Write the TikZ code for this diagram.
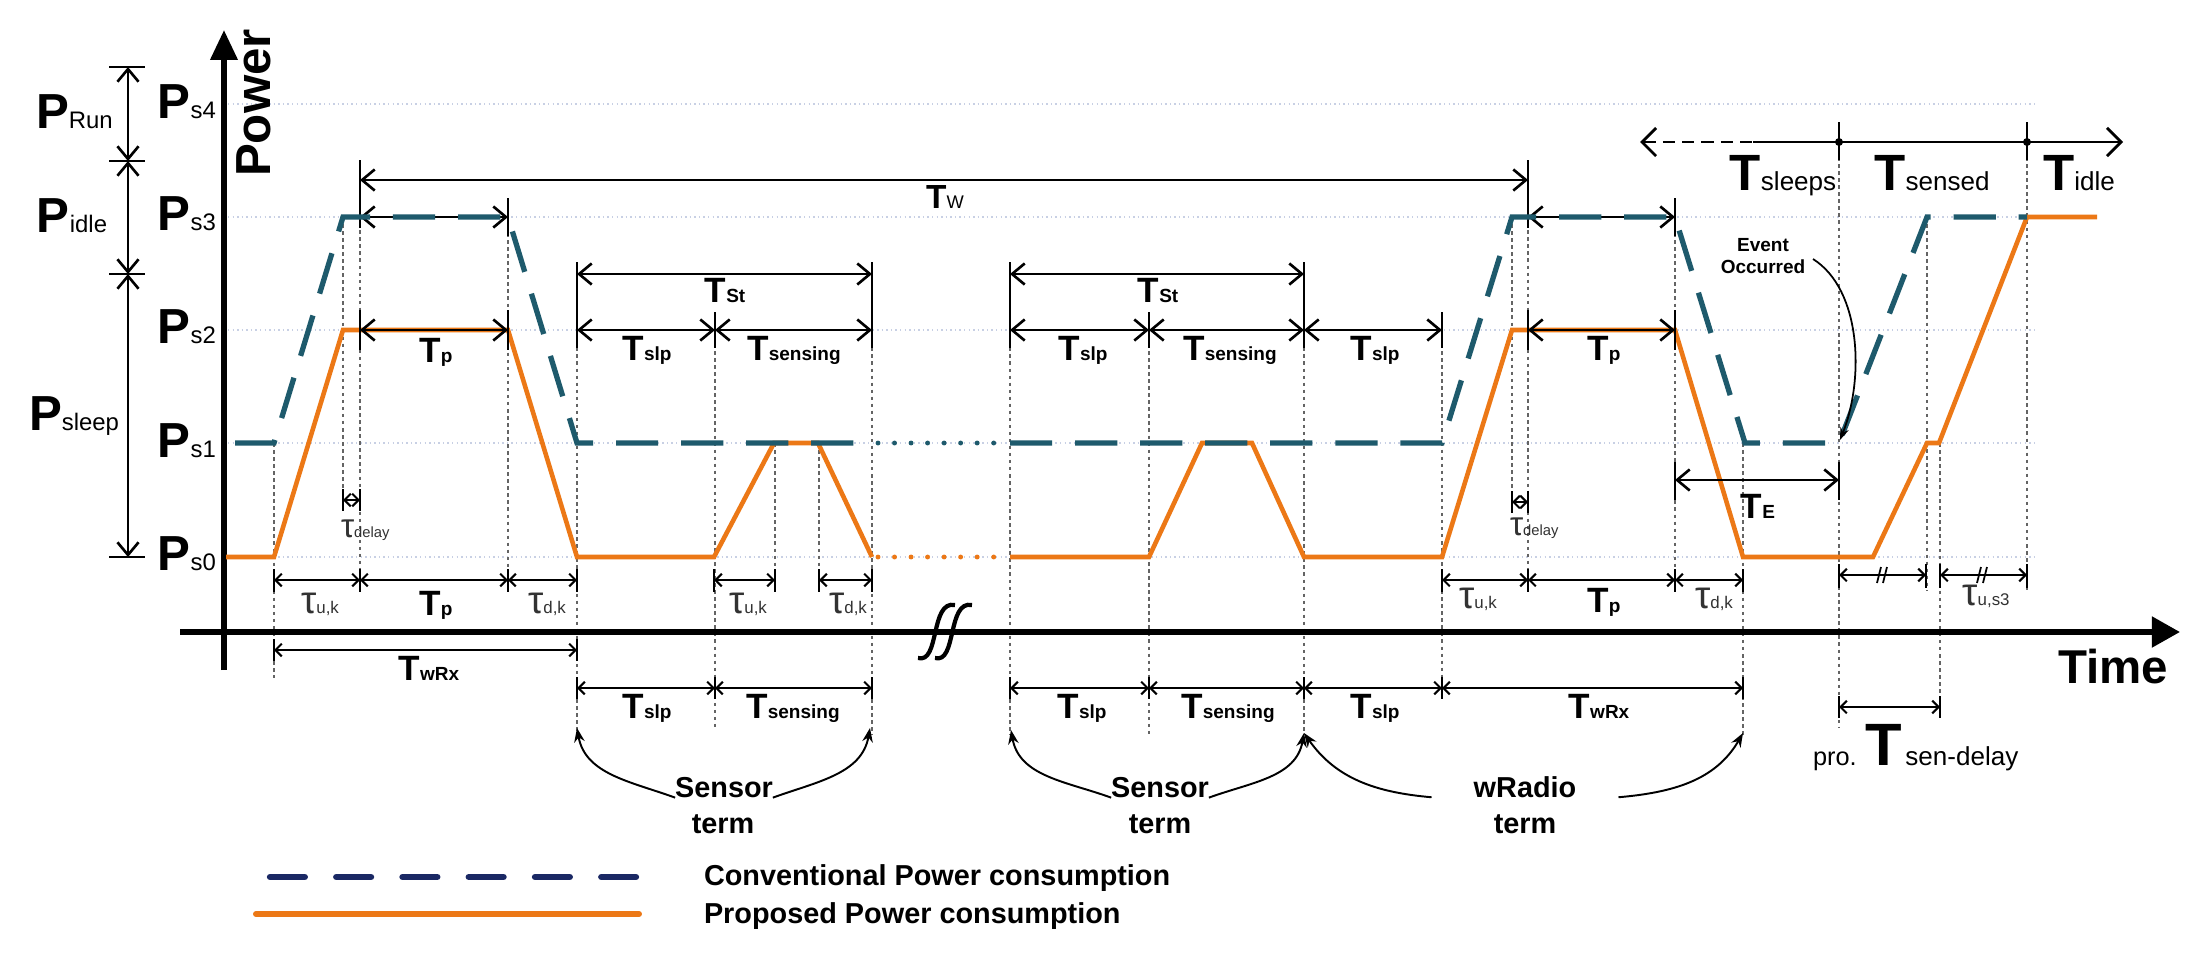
\documentclass[tikz,border=0pt]{standalone}
\usepackage{fontspec}
\setmainfont{Liberation Sans}
\usetikzlibrary{arrows.meta}
\definecolor{orng}{RGB}{236,120,22}
\definecolor{convc}{RGB}{30,90,108}
\definecolor{navyc}{RGB}{26,40,100}
\definecolor{gridc}{RGB}{200,208,228}
\definecolor{guidec}{RGB}{100,100,100}
\definecolor{taucol}{RGB}{50,50,50}
\newcommand\Tm[1]{{\fontsize{10}{12}\selectfont\bfseries T}{\fontsize{5.4}{6}\selectfont\bfseries #1}}
\newcommand\Tbig[1]{{\fontsize{14.5}{16}\selectfont\bfseries T}{\fontsize{7.4}{8}\selectfont #1}}
\newcommand\Pl[1]{{\fontsize{14}{16}\selectfont\bfseries P}{\fontsize{6.8}{8}\selectfont #1}}
\newcommand\Tu[1]{{\color{taucol}{\fontsize{11}{12}\selectfont τ}{\fontsize{4.8}{6}\selectfont #1}}}
\newcommand\Td[1]{{\color{taucol}{\fontsize{9.5}{11}\selectfont τ}{\fontsize{4.2}{5}\selectfont #1}}}
\newcommand\vt[3]{\draw[tk] (#1,#2) -- (#1,#3);}
\begin{document}
\begin{tikzpicture}[x=0.01cm,y=-0.01cm,
  every node/.style={inner sep=0pt, outer sep=0pt},
  prop/.style={orng, line width=1.3pt},
  propdot/.style={orng, line width=1.4pt, line cap=round, dash pattern=on 0pt off 4.7pt},
  conv/.style={convc, line width=1.5pt, dash pattern=on 12pt off 6.5pt},
  convdot/.style={convc, line width=1.4pt, line cap=round, dash pattern=on 0pt off 4.7pt},
  gridl/.style={gridc, line width=0.5pt, dash pattern=on 0.4pt off 0.9pt},
  guide/.style={guidec, line width=0.35pt, dash pattern=on 1pt off 1pt},
  dimB/.style={line width=0.75pt, {Straight Barb[length=3.6pt,width=6pt]}-{Straight Barb[length=3.6pt,width=6pt]}},
  dimS/.style={line width=0.6pt, {Straight Barb[length=1.8pt,width=3.6pt]}-{Straight Barb[length=1.8pt,width=3.6pt]}},
  tk/.style={line width=0.65pt},
  curv/.style={line width=0.55pt, -{Stealth[length=4pt,width=3pt]}},
  axisl/.style={line width=1.6pt}
]
\fill[white] (0,0) rectangle (2202,963);
\path[use as bounding box] (0,0) rectangle (2202,963);

% grid lines
\foreach \yy in {104,217,330,443,557} \draw[gridl] (228,\yy) -- (2035,\yy);

% vertical guides
\foreach \xx/\ya/\yb in {274/443/678, 343/217/505, 360/160/590, 508/198/590, 577/263/735, 715/330/730, 775/443/590, 819/443/590, 872/263/735, 1010/263/735, 1149/330/735, 1304/263/735, 1442/330/700, 1512/217/505, 1528/160/590, 1675/198/590, 1743/443/735, 1839/122/727, 1927/217/590, 1940/443/718, 2027/122/590}
  \draw[guide] (\xx,\ya) -- (\xx,\yb);

% axes
\draw[axisl, -{Triangle[length=8pt,width=8.5pt]}] (180,632) -- (2180,632);
\draw[axisl, -{Triangle[length=8.5pt,width=7.5pt]}] (224,670) -- (224,30);
\foreach \dx in {0,17}
  \draw[line width=1.2pt] ({918+\dx},658) .. controls ({940+\dx},664) and ({930+\dx},600) .. ({955+\dx},605);

% proposed (orange)
\draw[prop] (226,557) -- (274,557) -- (343,330) -- (508,330) -- (577,557) -- (714,557) -- (774,443) -- (818,443) -- (872,557);
\draw[propdot] (878,557) -- (1000,557);
\draw[prop] (1010,557) -- (1149,557) -- (1202,443) -- (1252,443) -- (1304,557) -- (1442,557) -- (1512,330) -- (1675,330) -- (1743,557) -- (1873,557) -- (1927,443) -- (1939,443) -- (2027,217) -- (2097,217);

% power bracket
\foreach \yy in {67,161,274,557} \draw[tk] (109,\yy) -- (145,\yy);
\draw[dimB] (128,67) -- (128,161);
\draw[dimB] (128,161) -- (128,274);
\draw[dimB] (128,274) -- (128,557);

% top dimension lines
\draw[dimB] (360,180) -- (1528,180);
\vt{360}{160}{228} \vt{1528}{160}{228}
\draw[dimB] (360,217) -- (508,217); \vt{508}{198}{236}
\draw[dimB] (1528,217) -- (1675,217); \vt{1675}{198}{236}
\draw[dimB] (360,330) -- (508,330); \vt{360}{310}{350} \vt{508}{310}{350}
\draw[dimB] (1528,330) -- (1675,330); \vt{1528}{310}{350} \vt{1675}{310}{350}
\draw[dimB] (577,274) -- (872,274); \vt{577}{262}{348} \vt{872}{262}{348}
\draw[dimB] (577,330) -- (715,330); \draw[dimB] (715,330) -- (872,330); \vt{715}{312}{348}
\draw[dimB] (1010,274) -- (1304,274); \vt{1010}{262}{348} \vt{1304}{262}{348}
\draw[dimB] (1010,330) -- (1149,330); \draw[dimB] (1149,330) -- (1304,330); \draw[dimB] (1304,330) -- (1442,330);
\vt{1149}{312}{348} \vt{1442}{312}{348}
\draw[dimS] (343,500) -- (360,500); \vt{343}{489}{511} \vt{360}{489}{511}
\draw[dimS] (1512,502) -- (1528,502); \vt{1512}{491}{513} \vt{1528}{491}{513}
\draw[dimB] (1675,480) -- (1839,480); \vt{1675}{462}{500} \vt{1839}{462}{500}

% bottom dimension lines
\foreach \a/\b in {274/360,360/508,508/577,714/775,819/872,1442/1528,1528/1675,1675/1743}
  {\draw[dimS] (\a,580) -- (\b,580); \vt{\a}{569}{592} \vt{\b}{569}{592}}
\foreach \a/\b in {1839/1926,1940/2027}
  {\draw[dimS] (\a,575) -- (\b,575); \vt{\a}{564}{588} \vt{\b}{564}{588}}
\foreach \mx in {1882,1982}
  {\draw[line width=0.5pt] ({\mx-5},583) -- ({\mx-1},567); \draw[line width=0.5pt] ({\mx+1},583) -- ({\mx+5},567);}
\draw[dimS] (274,650) -- (577,650); \vt{274}{639}{661} \vt{577}{639}{661}
\foreach \a/\b in {577/715,715/872,1010/1149,1149/1304,1304/1442,1442/1743}
  {\draw[dimS] (\a,688) -- (\b,688); \vt{\a}{677}{699} \vt{\b}{677}{699}}
\draw[dimS] (1839,707) -- (1940,707); \vt{1839}{696}{718} \vt{1940}{696}{718}

% top-right time arrow
\draw[line width=0.8pt, dash pattern=on 3.5pt off 2pt, {Straight Barb[length=4pt,width=8pt]}-] (1640,142) -- (1753,142);
\draw[line width=0.8pt, -{Straight Barb[length=4pt,width=8pt]}] (1753,142) -- (2123,142);
\vt{1839}{122}{160} \vt{2027}{122}{160}
\fill (1839,142) circle (4); \fill (2027,142) circle (4);

% conventional (blue dashed)
\draw[conv] (235,443) -- (274,443) -- (343,217) -- (508,217) -- (577,443) -- (872,443);
\draw[convdot] (878,443) -- (1000,443);
\draw[conv] (1010,443) -- (1442,443) -- (1512,217) -- (1675,217) -- (1745,443) -- (1839,443) -- (1927,217) -- (2027,217);

% axis labels
\node[rotate=90] (pw) at (254,103) {\fontsize{14}{16}\selectfont\bfseries Power};
\node[anchor=base] (tm) at (2113,683) {\fontsize{13.5}{15}\selectfont\bfseries Time};

% power level labels
\node[anchor=base east] (ps4) at (216,118) {\Pl{s4}};
\node[anchor=base east] (ps3) at (216,230) {\Pl{s3}};
\node[anchor=base east] (ps2) at (216,343) {\Pl{s2}};
\node[anchor=base east] (ps1) at (216,457) {\Pl{s1}};
\node[anchor=base east] (ps0) at (216,570) {\Pl{s0}};
\node[anchor=base west] (prun) at (36,128) {\Pl{Run}};
\node[anchor=base west] (pidle) at (37,232) {\Pl{idle}};
\node[anchor=base west] (psleep) at (29,430) {\Pl{sleep}};

% time labels
\node[anchor=base] (ltw) at (945,208) {{\fontsize{9.5}{11}\selectfont\bfseries T}{\fontsize{5.2}{6}\selectfont W}};
\node[anchor=base] (ltp1) at (436,362) {\Tm{p}};
\node[anchor=base] (ltp2) at (1604,360) {\Tm{p}};
\node[anchor=base] (ltst1) at (725,302) {\Tm{St}};
\node[anchor=base] (ltst2) at (1158,302) {\Tm{St}};
\node[anchor=base] (ls1) at (647,360) {\Tm{slp}};
\node[anchor=base] (lse1) at (794,360) {\Tm{sensing}};
\node[anchor=base] (ls2) at (1083,360) {\Tm{slp}};
\node[anchor=base] (lse2) at (1230,360) {\Tm{sensing}};
\node[anchor=base] (ls3) at (1375,360) {\Tm{slp}};
\node[anchor=base] (lte) at (1758,518) {\Tm{E}};
\node[anchor=base west] (ld1) at (341,537) {\Td{delay}};
\node[anchor=base west] (ld2) at (1510,535) {\Td{delay}};

\node[anchor=base] (lu1) at (320,613) {\Tu{u,k}};
\node[anchor=base] (lp3) at (436,615) {\Tm{p}};
\node[anchor=base] (ldk1) at (547,613) {\Tu{d,k}};
\node[anchor=base] (lu2) at (748,613) {\Tu{u,k}};
\node[anchor=base] (ldk2) at (848,613) {\Tu{d,k}};
\node[anchor=base] (lu3) at (1478,608) {\Tu{u,k}};
\node[anchor=base] (lp4) at (1604,612) {\Tm{p}};
\node[anchor=base] (ldk3) at (1714,608) {\Tu{d,k}};
\node[anchor=base] (lus3) at (1986,605) {\Tu{u,s3}};
\node[anchor=base] (lwrx1) at (429,680) {\Tm{wRx}};

\node[anchor=base] (ls4) at (647,718) {\Tm{slp}};
\node[anchor=base] (lse3) at (793,718) {\Tm{sensing}};
\node[anchor=base] (ls5) at (1082,718) {\Tm{slp}};
\node[anchor=base] (lse4) at (1228,718) {\Tm{sensing}};
\node[anchor=base] (ls6) at (1375,718) {\Tm{slp}};
\node[anchor=base] (lwrx2) at (1599,718) {\Tm{wRx}};

\node[anchor=base] (tsl) at (1783,190) {\Tbig{sleeps}};
\node[anchor=base] (tsn) at (1932,190) {\Tbig{sensed}};
\node[anchor=base] (tid) at (2079,190) {\Tbig{idle}};

\node[anchor=base west] (tsd) at (1813,765) {{\fontsize{7.2}{8}\selectfont pro.}\hspace{2.5pt}{\fontsize{17}{18}\selectfont\bfseries T}\hspace{1pt}{\fontsize{7.4}{8}\selectfont sen-delay}};

% event occurred
\node[anchor=base] (ev1) at (1763,251) {\fontsize{5.4}{6}\selectfont\bfseries Event};
\node[anchor=base] (ev2) at (1763,273) {\fontsize{5.4}{6}\selectfont\bfseries Occurred};
\coordinate (evt) at (1840,440);
\draw[line width=0.5pt, -{Stealth[length=3.5pt,width=2.5pt]}] (1813,259) .. controls (1862,290) and (1864,380) .. (evt);

% term labels
\node[anchor=base] (sA) at (724,797) {\fontsize{8.2}{10}\selectfont\bfseries Sensor};
\node[anchor=base] (sB) at (723,833) {\fontsize{8.2}{10}\selectfont\bfseries term};
\node[anchor=base] (sC) at (1160,797) {\fontsize{8.2}{10}\selectfont\bfseries Sensor};
\node[anchor=base] (sD) at (1160,833) {\fontsize{8.2}{10}\selectfont\bfseries term};
\node[anchor=base] (wA) at (1525,797) {\fontsize{8.2}{10}\selectfont\bfseries wRadio};
\node[anchor=base] (wB) at (1525,833) {\fontsize{8.2}{10}\selectfont\bfseries term};
\coordinate (c1) at (577,728); \coordinate (c2) at (870,728);
\coordinate (c3) at (1011,730); \coordinate (c4) at (1304,733); \coordinate (c5) at (1743,733);
\draw[curv] ([yshift=-3]sA.west) to[out=160,in=-80] (c1);
\draw[curv] ([yshift=-3]sA.east) to[out=20,in=-100] (c2);
\draw[curv] ([yshift=-3]sC.west) to[out=160,in=-80] (c3);
\draw[curv] ([yshift=-3]sC.east) to[out=20,in=-100] (c4);
\draw[curv] ([xshift=-12,yshift=-3]wA.west) to[out=175,in=-55] (c4);
\draw[curv] ([xshift=12,yshift=-3]wA.east) to[out=5,in=-120] (c5);

% legend
\coordinate (lg1a) at (270,877); \coordinate (lg1b) at (636,877);
\coordinate (lg2a) at (256,914); \coordinate (lg2b) at (639,914);
\draw[navyc, line width=1.8pt, line cap=round, dash pattern=on 9.9pt off 8.94pt] (lg1a) -- (lg1b);
\draw[orng, line width=1.7pt, line cap=round] (lg2a) -- (lg2b);
\node[anchor=base west] (lt1) at (704,885) {\fontsize{8.2}{10}\selectfont\bfseries Conventional Power consumption};
\node[anchor=base west] (lt2) at (704,923) {\fontsize{8.2}{10}\selectfont\bfseries Proposed Power consumption};
\end{tikzpicture}
\end{document}
